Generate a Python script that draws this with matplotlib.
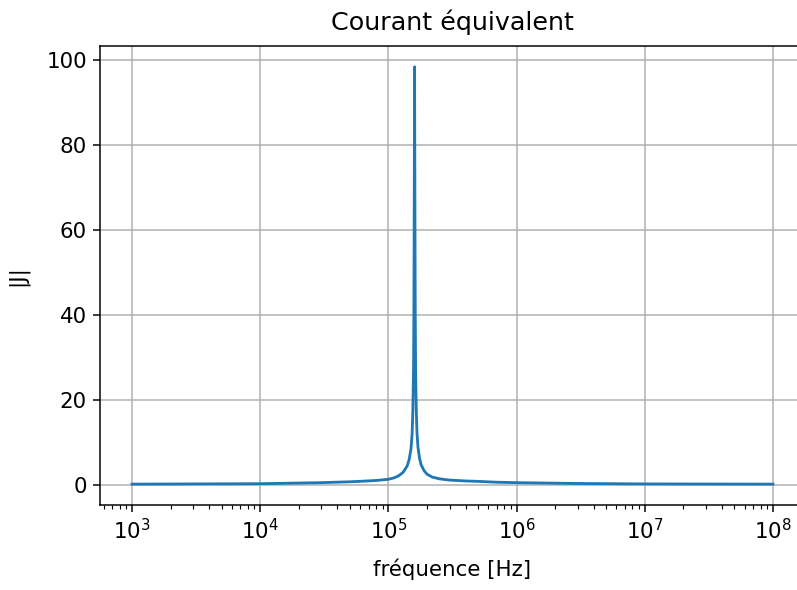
import matplotlib
matplotlib.use('Agg')
import matplotlib.pyplot as plt

# Frequencies [Hz] and |J|
freq = [1e3, 1e4, 3e4, 5e4, 8e4, 1e5, 1.1e5, 1.2e5, 1.3e5, 1.4e5, 1.45e5,
        1.5e5, 1.53e5, 1.55e5, 1.57e5, 1.58e5, 1.59e5, 1.6e5, 1.61e5,
        1.62e5, 1.63e5, 1.65e5, 1.67e5, 1.7e5, 1.75e5, 1.8e5, 1.9e5, 2e5,
        2.2e5, 2.5e5, 3e5, 4e5, 5e5, 7e5, 1e6, 3e6, 1e7, 1e8]
J = [0.25, 0.35, 0.6, 0.8, 1.1, 1.4, 1.7, 2.2, 3.0, 4.5, 6.0,
     8.5, 12, 17, 27, 40, 65, 98.5, 65,
     40, 27, 17.5, 12.5, 9, 6.3, 4.8, 3.4, 2.6,
     1.9, 1.5, 1.2, 1.0, 0.9, 0.7, 0.6, 0.4, 0.3, 0.25]

s = 1.35  # line scale of the upscaled reference
f = 1.54  # text scale
plt.rcParams.update({
    'font.size': 10 * f,
    'axes.linewidth': 0.8 * s,
    'grid.linewidth': 0.8 * s,
    'xtick.major.size': 3.5 * s,
    'ytick.major.size': 3.5 * s,
    'xtick.minor.size': 2 * s,
    'xtick.major.width': 0.8 * s,
    'ytick.major.width': 0.8 * s,
    'xtick.minor.width': 0.6 * s,
    'xtick.major.pad': 3.5 * s,
    'ytick.major.pad': 3.5 * s,
})

fig = plt.figure(figsize=(7.97, 5.9), dpi=100)
# axes runs past the right edge, as in the cropped reference
ax = fig.add_axes([100 / 797, 85 / 590, 705 / 797, 459 / 590])
ax.semilogx(freq, J, color='C0', lw=1.5 * s)
ax.grid(True)
ax.set_title('Courant équivalent', fontsize=18.3, pad=11.5)
ax.set_xlabel('fréquence [Hz]', labelpad=11)
ax.set_ylabel('|J|', labelpad=13)

fig.savefig('out.png', dpi=100)
